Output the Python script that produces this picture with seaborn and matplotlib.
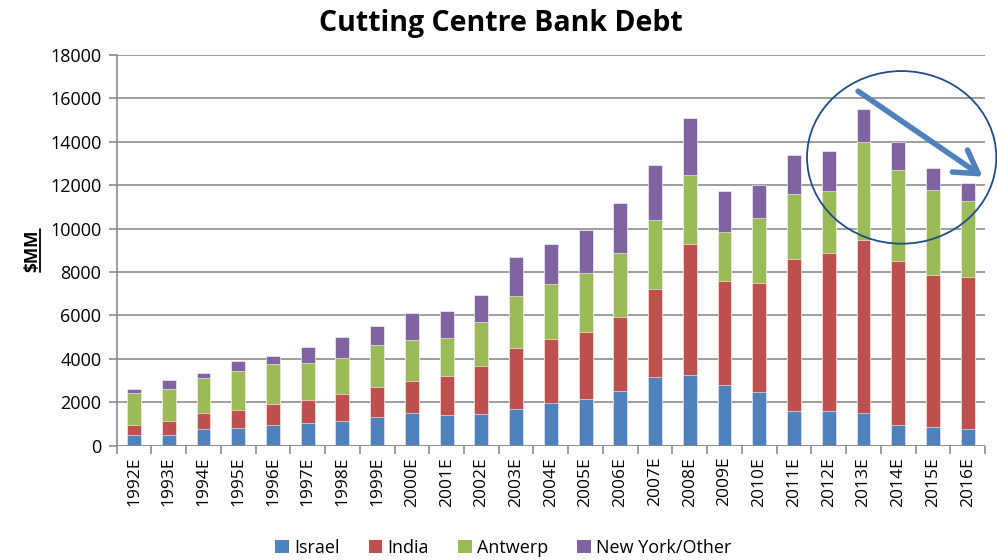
import matplotlib
matplotlib.use("Agg")
import matplotlib.pyplot as plt
import seaborn as sns
import pandas as pd
import numpy as np
from matplotlib.patches import Ellipse, FancyArrowPatch, Patch

years = [f"{y}E" for y in range(1992, 2017)]
israel = [480, 480, 770, 800, 940, 1030, 1140, 1310, 1490, 1420, 1450, 1690, 1980,
          2150, 2510, 3180, 3280, 2780, 2480, 1580, 1580, 1490, 970, 880, 770]
india = [490, 660, 750, 850, 1000, 1090, 1230, 1410, 1510, 1780, 2200, 2800, 2930,
         3080, 3440, 4020, 6000, 4800, 5000, 7000, 7300, 8000, 7520, 7000, 7010]
antwerp = [1450, 1490, 1590, 1810, 1840, 1700, 1690, 1940, 1860, 1770, 2030, 2400, 2550,
           2740, 2910, 3200, 3210, 2270, 3030, 3020, 2870, 4510, 4200, 3920, 3500]
newyork = [200, 390, 240, 460, 350, 720, 940, 840, 1260, 1250, 1240, 1820, 1850,
           1980, 2310, 2510, 2620, 1890, 1490, 1800, 1830, 1510, 1280, 980, 810]

series = ["Israel", "India", "Antwerp", "New York/Other"]
colors = ["#4F81BD", "#C0504D", "#9BBB59", "#8064A2"]

df = pd.DataFrame({"year": years, "Israel": israel, "India": india,
                   "Antwerp": antwerp, "New York/Other": newyork})
cum = df[series].cumsum(axis=1)

sns.set_style("white")
plt.rcParams['font.family'] = ['Open Sans', 'DejaVu Sans']
plt.rcParams['text.color'] = 'black'
plt.rcParams['axes.labelcolor'] = 'black'

fig = plt.figure(figsize=(9.97, 5.6), dpi=100)
ax = fig.add_axes([0.117, 0.204, 0.871, 0.698])

for s, c in reversed(list(zip(series, colors))):
    sns.barplot(x=df["year"], y=cum[s], color=c, width=0.4, ax=ax,
                edgecolor="#ffffff", linewidth=0.4, saturation=1, zorder=3)

ax.set_ylim(0, 18000)
ax.set_xlim(-0.5, len(years) - 0.5)
ax.set_yticks(np.arange(0, 18001, 2000))
ax.yaxis.grid(True, color="#959595", linewidth=1.3, zorder=0)
ax.set_axisbelow(True)

for side in ["top", "right", "bottom"]:
    ax.spines[side].set_visible(False)
ax.spines["left"].set_color("#8c8c8c")
ax.spines["left"].set_linewidth(1.2)
ax.axhline(0, color="#8c8c8c", linewidth=1.3, zorder=4)

ax.tick_params(axis="y", which="major", length=6, width=1.2, color="#8c8c8c",
               labelcolor="black", labelsize=13, pad=5, left=True)
ax.set_xticks(range(len(years)))
ax.set_xticklabels(years, rotation=90, fontsize=12.5)
ax.tick_params(axis="x", which="major", length=0, pad=8, labelcolor="black")
ax.set_xticks(np.arange(-0.5, len(years), 1), minor=True)
ax.tick_params(axis="x", which="minor", length=6, width=1.2, color="#8c8c8c", bottom=True)

ax.set_xlabel("")
ax.set_ylabel("$MM", fontsize=12.5, fontweight="bold", labelpad=6, color="black")

fig.text(0.502, 0.958, "Cutting Centre Bank Debt", ha="center", va="center",
         fontsize=20.5, fontweight="bold", color="black")

fig.canvas.draw()

# annotation: ellipse and arrow (data coordinates)
ell = Ellipse((22.1, 13280), width=5.45, height=7950, fill=False,
              edgecolor="#1F4E84", linewidth=1.3, clip_on=False, zorder=6)
ax.add_patch(ell)
arr = FancyArrowPatch((20.78, 16400), (24.5, 12320), arrowstyle="->,head_length=10,head_width=6",
                      color="#4F81BD", linewidth=4, clip_on=False, zorder=7,
                      mutation_scale=1.6)
ax.add_patch(arr)

handles = [Patch(facecolor=c, edgecolor="none") for c in colors]
leg = fig.legend(handles, series, loc="center", bbox_to_anchor=(0.505, 0.022), ncol=4,
                 frameon=False, fontsize=13, handlelength=0.75, handleheight=0.75,
                 handletextpad=0.3, columnspacing=1.6, labelcolor="black")

# underline the ylabel (baseline side of rotated text)
bb = ax.yaxis.label.get_window_extent(fig.canvas.get_renderer())
inv = fig.transFigure.inverted()
(x0, y0), (x1, y1) = inv.transform([[bb.x0, bb.y0], [bb.x1, bb.y1]])
fig.add_artist(plt.Line2D([x1 - 0.002, x1 - 0.002], [y0, y1], color="black",
                          linewidth=1.3, transform=fig.transFigure))

fig.savefig("out.png", dpi=100)
